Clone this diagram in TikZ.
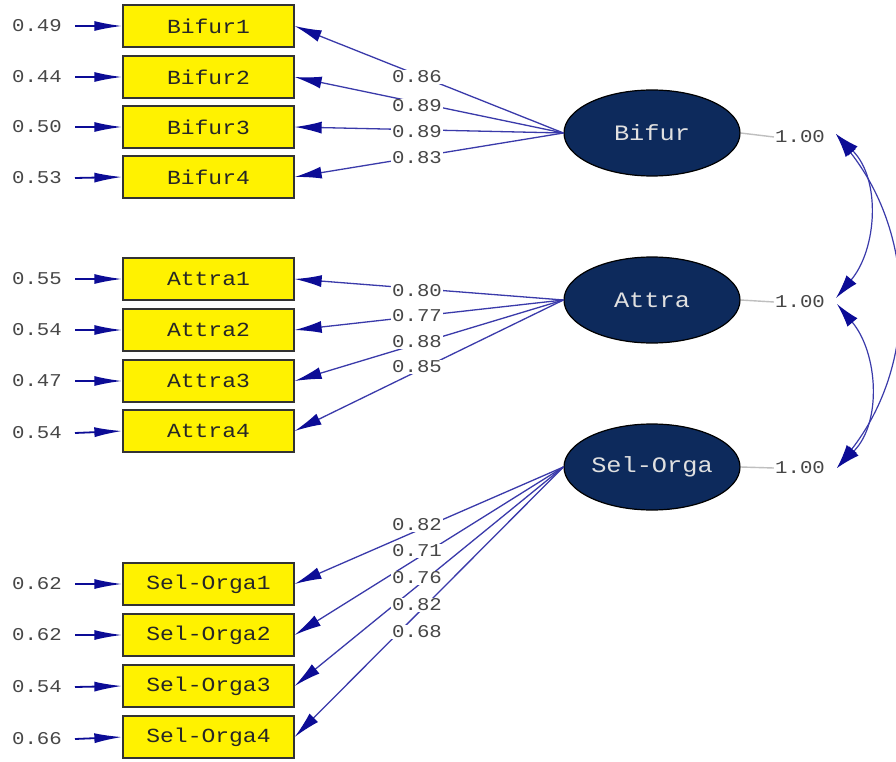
\documentclass[tikz,border=0pt]{standalone}
\usepackage{fontspec}
\newfontfamily\cour[FakeStretch=1.15]{Liberation Mono}
\usetikzlibrary{arrows.meta,shapes.geometric}
\definecolor{navy}{HTML}{0C0C96}
\definecolor{lineblue}{HTML}{3A3AAA}
\definecolor{lvfill}{HTML}{0D2A5C}
\begin{document}
\begin{tikzpicture}[x=1pt,y=-1pt,
  obs/.style={draw=black!80, line width=1.3pt, fill=yellow, minimum width=171pt, minimum height=42pt, inner sep=0pt, font=\cour\fontsize{20}{20}\selectfont, text=black!85},
  lat/.style={ellipse, draw=black, line width=1.2pt, fill=lvfill, minimum width=176pt, minimum height=86pt, inner sep=0pt, font=\cour\fontsize{22}{22}\selectfont, text=white!88!black},
  num/.style={font=\cour\fontsize{18}{18}\selectfont, text=black!72, inner sep=1pt},
  lbl/.style={num, fill=white},
  err/.style={draw=navy, line width=1.8pt, -{Latex[length=28pt,width=10pt,color=navy]}},
  load/.style={draw=lineblue, line width=1.3pt, -{Latex[length=27pt,width=12pt,color=navy]}},
  varl/.style={draw=black!25, line width=1.4pt},
  cov/.style={draw=lineblue, line width=1.2pt, {Latex[length=24pt,width=13pt,color=navy]}-{Latex[length=24pt,width=13pt,color=navy]}}
]
\useasboundingbox[fill=white] (0,0) rectangle (896,762);

% observed variables
\node[obs] (b1) at (208.5,26) {Bifur1};
\node[obs] (b2) at (208.5,77) {Bifur2};
\node[obs] (b3) at (208.5,127) {Bifur3};
\node[obs] (b4) at (208.5,177) {Bifur4};
\node[obs] (a1) at (208.5,279) {Attra1};
\node[obs] (a2) at (208.5,330) {Attra2};
\node[obs] (a3) at (208.5,381) {Attra3};
\node[obs] (a4) at (208.5,431) {Attra4};
\node[obs] (s1) at (208.5,584) {Sel-Orga1};
\node[obs] (s2) at (208.5,635) {Sel-Orga2};
\node[obs] (s3) at (208.5,686) {Sel-Orga3};
\node[obs] (s4) at (208.5,737) {Sel-Orga4};

% latent variables
\node[lat] (B) at (652,133) {Bifur};
\node[lat] (A) at (652,300) {Attra};
\node[lat] (S) at (652,467) {Sel-Orga};

% error terms
\foreach \v/\e/\yy in {b1/0.49/26, b2/0.44/77, b3/0.50/127, b4/0.53/178,
                        a1/0.55/279, a2/0.54/330, a3/0.47/381, a4/0.54/433,
                        s1/0.62/584, s2/0.62/635, s3/0.54/687, s4/0.66/739}{
  \node[num] (e\v) at (37,\yy) {\e};
  \coordinate (t\v) at (75,\yy);
  \draw[err] (t\v) -- (\v.west);
}

% loadings
\foreach \v in {b1,b2,b3,b4}{ \draw[load] (B.west) -- (\v.east); }
\foreach \v in {a1,a2,a3,a4}{ \draw[load] (A.west) -- (\v.east); }
\foreach \v in {s1,s2,s3,s4}{ \draw[load] (S.west) -- (\v.east); }

\node[lbl] (lb1) at (417,77) {0.86};
\node[lbl] (lb2) at (417,106) {0.89};
\node[lbl] (lb3) at (417,132) {0.89};
\node[lbl] (lb4) at (417,158) {0.83};
\node[lbl] (la1) at (417,291) {0.80};
\node[lbl] (la2) at (417,316) {0.77};
\node[lbl] (la3) at (417,342) {0.88};
\node[lbl] (la4) at (417,367) {0.85};
\node[lbl] (ls1) at (417,525) {0.82};
\node[lbl] (ls2) at (417,551) {0.71};
\node[lbl] (ls3) at (417,578) {0.76};
\node[lbl] (ls4) at (417,605) {0.82};
\node[lbl] (ls5) at (417,632) {0.68};

% variances
\node[num] (vB) at (800,137) {1.00};
\node[num] (vA) at (800,302) {1.00};
\node[num] (vS) at (800,468) {1.00};
\draw[varl] (B.east) -- (vB.west);
\draw[varl] (A.east) -- (vA.west);
\draw[varl] (S.east) -- (vS.west);

% covariances
\coordinate (cB) at (836,134);
\coordinate (cA1) at (836,298);
\coordinate (cA2) at (837,304);
\coordinate (cS) at (837,468);
\draw[cov] (cB) to[out=-45,in=50] (cA1);
\draw[cov] (cA2) to[out=-50,in=45] (cS);
\draw[cov] (cB) to[out=-52,in=52] (cS);
\end{tikzpicture}
\end{document}
